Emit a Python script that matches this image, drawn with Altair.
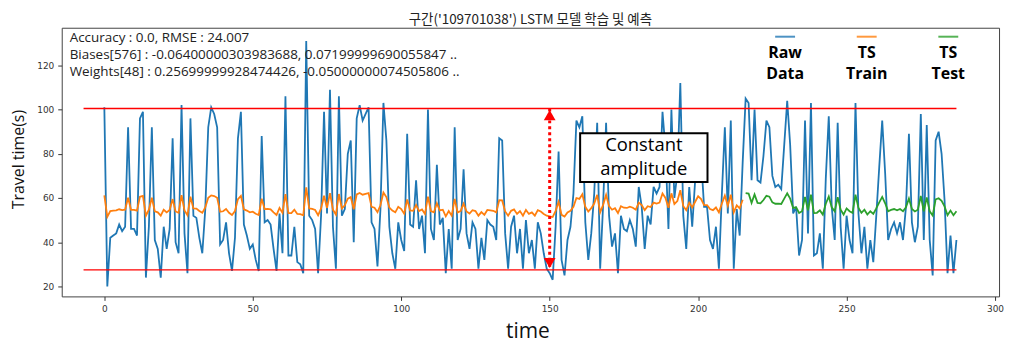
import altair as alt
import pandas as pd

# ---------------- data ----------------
raw_data = [
    101, 20, 42, 43, 44, 48, 45, 47, 92, 46,
    46, 43, 96, 99, 24, 47, 92, 41, 37, 24,
    47, 37, 46, 87, 40, 35, 102, 44, 26, 96,
    52, 51, 42, 35, 55, 92, 101, 98, 92, 39,
    41, 49, 35, 27, 42, 87, 99, 48, 43, 37,
    39, 32, 27, 88, 49, 50, 48, 37, 27, 53,
    35, 106, 34, 34, 47, 31, 30, 26, 131, 52,
    50, 46, 26, 52, 99, 53, 109, 47, 28, 106,
    52, 55, 80, 86, 40, 96, 102, 95, 98, 101,
    49, 46, 29, 55, 103, 86, 47, 35, 28, 49,
    41, 36, 89, 48, 47, 68, 46, 52, 35, 100,
    46, 41, 75, 48, 51, 26, 46, 28, 92, 41,
    46, 73, 44, 37, 49, 46, 28, 42, 32, 50,
    48, 47, 41, 87, 86, 44, 28, 47, 52, 35,
    46, 28, 50, 35, 41, 28, 49, 44, 35, 28,
    26, 23, 47, 81, 32, 25, 41, 47, 62, 95,
    92, 97, 49, 32, 44, 62, 94, 28, 57, 94,
    52, 38, 44, 26, 52, 46, 45, 50, 46, 38,
    65, 56, 37, 52, 48, 65, 62, 65, 99, 82,
    46, 100, 60, 71, 112, 52, 37, 65, 47, 68,
    89, 78, 56, 56, 41, 37, 47, 28, 62, 92,
    53, 95, 28, 55, 43, 76, 105, 103, 68, 100,
    68, 67, 79, 95, 92, 70, 65, 66, 64, 84,
    104, 84, 53, 56, 34, 41, 95, 44, 103, 34,
    35, 44, 28, 69, 97, 56, 41, 94, 47, 28,
    52, 41, 35, 103, 53, 35, 47, 28, 41, 31,
    52, 74, 95, 71, 41, 46, 49, 44, 49, 41,
    56, 89, 49, 40, 47, 98, 41, 93, 41, 25,
    86, 90, 80, 59, 26, 43, 26, 41,
]

ts_train = [
    61.2, 51.5, 54.1, 54.3, 54.4, 54.9, 54.5, 54.7, 60.1, 54.6,
    54.6, 54.3, 60.6, 61.0, 52.0, 54.7, 60.1, 54.0, 53.5, 52.0,
    54.7, 53.5, 54.6, 59.5, 53.9, 53.3, 61.3, 54.4, 52.2, 60.6,
    55.3, 55.2, 54.1, 53.3, 55.7, 60.1, 61.2, 60.9, 60.1, 53.8,
    54.0, 55.0, 53.3, 52.3, 54.1, 59.5, 61.0, 54.9, 54.3, 53.5,
    53.8, 52.9, 52.3, 59.7, 55.0, 55.1, 54.9, 53.5, 52.3, 55.5,
    53.3, 61.8, 53.2, 53.2, 54.7, 52.8, 52.7, 52.2, 64.8, 55.3,
    55.1, 54.6, 52.2, 55.3, 61.0, 55.5, 62.2, 54.7, 52.5, 61.8,
    55.3, 56.7, 59.7, 60.4, 54.9, 61.6, 62.3, 61.5, 61.9, 62.2,
    56.0, 55.6, 53.6, 56.7, 62.5, 60.4, 55.7, 54.3, 53.5, 56.0,
    55.0, 52.9, 59.3, 54.4, 54.2, 56.8, 54.1, 54.8, 52.8, 60.6,
    54.1, 53.5, 57.6, 54.4, 54.7, 51.7, 54.1, 52.0, 59.6, 53.5,
    54.1, 57.4, 53.9, 53.0, 54.5, 54.1, 52.0, 53.6, 52.4, 54.6,
    54.4, 54.2, 53.5, 59.0, 58.9, 53.9, 52.0, 54.2, 54.8, 52.8,
    54.1, 52.0, 54.6, 52.8, 53.5, 52.0, 54.5, 53.9, 52.8, 52.0,
    51.7, 51.4, 54.2, 58.3, 52.4, 51.6, 53.5, 54.2, 56.0, 60.0,
    59.6, 61.7, 56.0, 53.9, 55.4, 57.5, 61.4, 53.5, 56.9, 61.4,
    56.3, 54.7, 55.4, 53.2, 56.3, 55.6, 55.5, 56.1, 55.6, 54.7,
    57.9, 56.8, 54.5, 56.3, 55.9, 57.9, 57.5, 57.9, 62.0, 60.0,
    55.6, 62.1, 57.3, 58.6, 63.5, 56.3, 54.5, 57.9, 55.7, 58.3,
    60.8, 59.5, 56.8, 56.8, 55.0, 54.5, 55.7, 53.5, 57.5, 61.1,
    56.5, 61.5, 53.5, 56.7, 55.3, 59.2,
]

ts_test = [
    62.2, 62.0, 57.8, 61.6, 57.8, 57.6, 59.1, 61.0, 60.6, 58.0,
    57.4, 57.5, 57.3, 59.7, 62.1, 59.7, 55.5, 55.8, 53.2, 54.0,
    60.5, 54.4, 61.5, 53.2, 53.3, 54.4, 52.5, 57.4, 60.7, 55.8,
    54.0, 60.4, 54.7, 52.5, 55.3, 54.0, 53.3, 61.5, 55.5, 53.3,
    54.7, 52.5, 54.0, 52.8, 55.3, 58.0, 60.5, 57.6, 54.0, 54.6,
    55.0, 54.4, 55.0, 54.0, 55.8, 59.8, 55.0, 53.9, 54.7, 60.9,
    54.0, 60.3, 54.0, 52.1, 59.4, 59.9, 58.7, 56.2, 52.2, 54.3, 52.2, 54.0,
]

time_idx = list(range(len(raw_data)))
train_len = len(ts_train)

x_ticks = [0, 50, 100, 150, 200, 250, 300]
y_ticks = [20, 40, 60, 80, 100, 120]

band_levels = [100.5, 27.5]
band_start = [-7, -7]
band_end = [287, 287]

arrow_time = [150]
arrow_top = [100.5]
arrow_bottom = [27.5]
arrow_head_up = [97.5]
arrow_head_down = [30.6]

title_text = "구간('109701038') LSTM 모델 학습 및 예측"
info_lines = [
    "Accuracy : 0.0, RMSE : 24.007",
    "Biases[576] : -0.06400000303983688, 0.07199999690055847 ..",
    "Weights[48] : 0.25699999928474426, -0.05000000074505806 ..",
]
legend_names = [("Raw", "Data"), ("TS", "Train"), ("TS", "Test")]
series_colors = ["#1f77b4", "#ff7f0e", "#2ca02c"]

df_raw = pd.DataFrame({"time": time_idx, "value": raw_data})
df_train = pd.DataFrame({"time": time_idx[:train_len], "value": ts_train})
df_test = pd.DataFrame({"time": time_idx[train_len:], "value": ts_test})
df_band = pd.DataFrame({"start": band_start, "end": band_end, "level": band_levels})
df_arrow = pd.DataFrame({"time": arrow_time, "top": arrow_top, "bottom": arrow_bottom,
                         "up": arrow_head_up, "down": arrow_head_down})
one = pd.DataFrame({"k": [0]})

# ---------------- chart ----------------
FONT = "Open Sans"
x_scale = alt.Scale(domain=[-14.35, 301.35], nice=False, zero=False)
y_scale = alt.Scale(domain=[15.5, 137.0], nice=False, zero=False)

x_axis = alt.Axis(values=x_ticks, title="time", grid=False, domain=False,
                  tickSize=4, tickColor="#333", labelColor="#333",
                  labelFont="DejaVu Sans", labelFontSize=9, labelPadding=4,
                  titleFont=FONT, titleFontSize=21, titleFontWeight="normal",
                  titleColor="#111", titleX=468, titleY=35, titleBaseline="middle")
y_axis = alt.Axis(values=y_ticks, title="Travel time(s)", grid=False, domain=False,
                  tickSize=4, tickColor="#333", labelColor="#333",
                  labelFont="DejaVu Sans", labelFontSize=9, labelPadding=4,
                  titleFont=FONT, titleFontSize=16, titleFontWeight="normal",
                  titleColor="#111", titleX=-43, titleY=132, titleAngle=270,
                  titleAlign="center", titleBaseline="middle")

raw_line = alt.Chart(df_raw).mark_line(color=series_colors[0], strokeWidth=1.8).encode(
    x=alt.X("time:Q", scale=x_scale, axis=x_axis),
    y=alt.Y("value:Q", scale=y_scale, axis=y_axis),
)
train_line = alt.Chart(df_train).mark_line(color=series_colors[1], strokeWidth=1.8).encode(
    x="time:Q", y="value:Q")
test_line = alt.Chart(df_test).mark_line(color=series_colors[2], strokeWidth=1.8).encode(
    x="time:Q", y="value:Q")

bands = alt.Chart(df_band).mark_rule(color="#ff0000", strokeWidth=1.4).encode(
    x="start:Q", x2="end:Q", y="level:Q")

arrow_line = alt.Chart(df_arrow).mark_rule(color="#ff0000", strokeWidth=3,
                                           strokeDash=[3, 3]).encode(
    x="time:Q", y="top:Q", y2="bottom:Q")
head_up = alt.Chart(df_arrow).mark_point(shape="triangle-up", filled=True, size=140,
                                         color="#ff0000", opacity=1).encode(
    x="time:Q", y="up:Q")
head_down = alt.Chart(df_arrow).mark_point(shape="triangle-down", filled=True, size=140,
                                           color="#ff0000", opacity=1).encode(
    x="time:Q", y="down:Q")

box = alt.Chart(one).mark_rect(fill="white", stroke="black", strokeWidth=2).encode(
    x=alt.value(521), x2=alt.value(649), y=alt.value(106), y2=alt.value(155))
box_t1 = alt.Chart(one).mark_text(font=FONT, fontSize=18.5, color="black").encode(
    x=alt.value(585), y=alt.value(118), text=alt.value("Constant"))
box_t2 = alt.Chart(one).mark_text(font=FONT, fontSize=18.5, color="black").encode(
    x=alt.value(585), y=alt.value(142), text=alt.value("amplitude"))

info_layers = []
for i, line in enumerate(info_lines):
    info_layers.append(
        alt.Chart(one).mark_text(font=FONT, fontSize=13.5, color="#222", align="left",
                                 baseline="middle").encode(
            x=alt.value(8), y=alt.value(10 + 17 * i), text=alt.value(line)))

legend_layers = []
legend_cx = [727, 809, 891]
for (l1, l2), col, cx in zip(legend_names, series_colors, legend_cx):
    legend_layers.append(
        alt.Chart(one).mark_rule(color=col, strokeWidth=2, opacity=0.8).encode(
            x=alt.value(cx - 10), x2=alt.value(cx + 10), y=alt.value(9)))
    legend_layers.append(
        alt.Chart(one).mark_text(font=FONT, fontSize=16, fontWeight="bold",
                                 color="black").encode(
            x=alt.value(cx), y=alt.value(25), text=alt.value(l1)))
    legend_layers.append(
        alt.Chart(one).mark_text(font=FONT, fontSize=16, fontWeight="bold",
                                 color="black").encode(
            x=alt.value(cx), y=alt.value(47), text=alt.value(l2)))

chart = alt.layer(
    raw_line, train_line, test_line, bands, arrow_line, head_up, head_down,
    box, box_t1, box_t2, *info_layers, *legend_layers,
).properties(
    width=942, height=270,
    autosize=alt.AutoSizeParams(type="none"),
    padding={"left": 54, "top": 19, "right": 8, "bottom": 46},
    title=alt.Title(title_text, font="Noto Sans CJK KR", fontSize=13.5,
                    fontWeight="normal", color="#222", anchor="middle", offset=1),
).configure_view(stroke="#444", strokeWidth=1)

chart.save("out.html", embed_options={"renderer": "svg", "actions": False})
